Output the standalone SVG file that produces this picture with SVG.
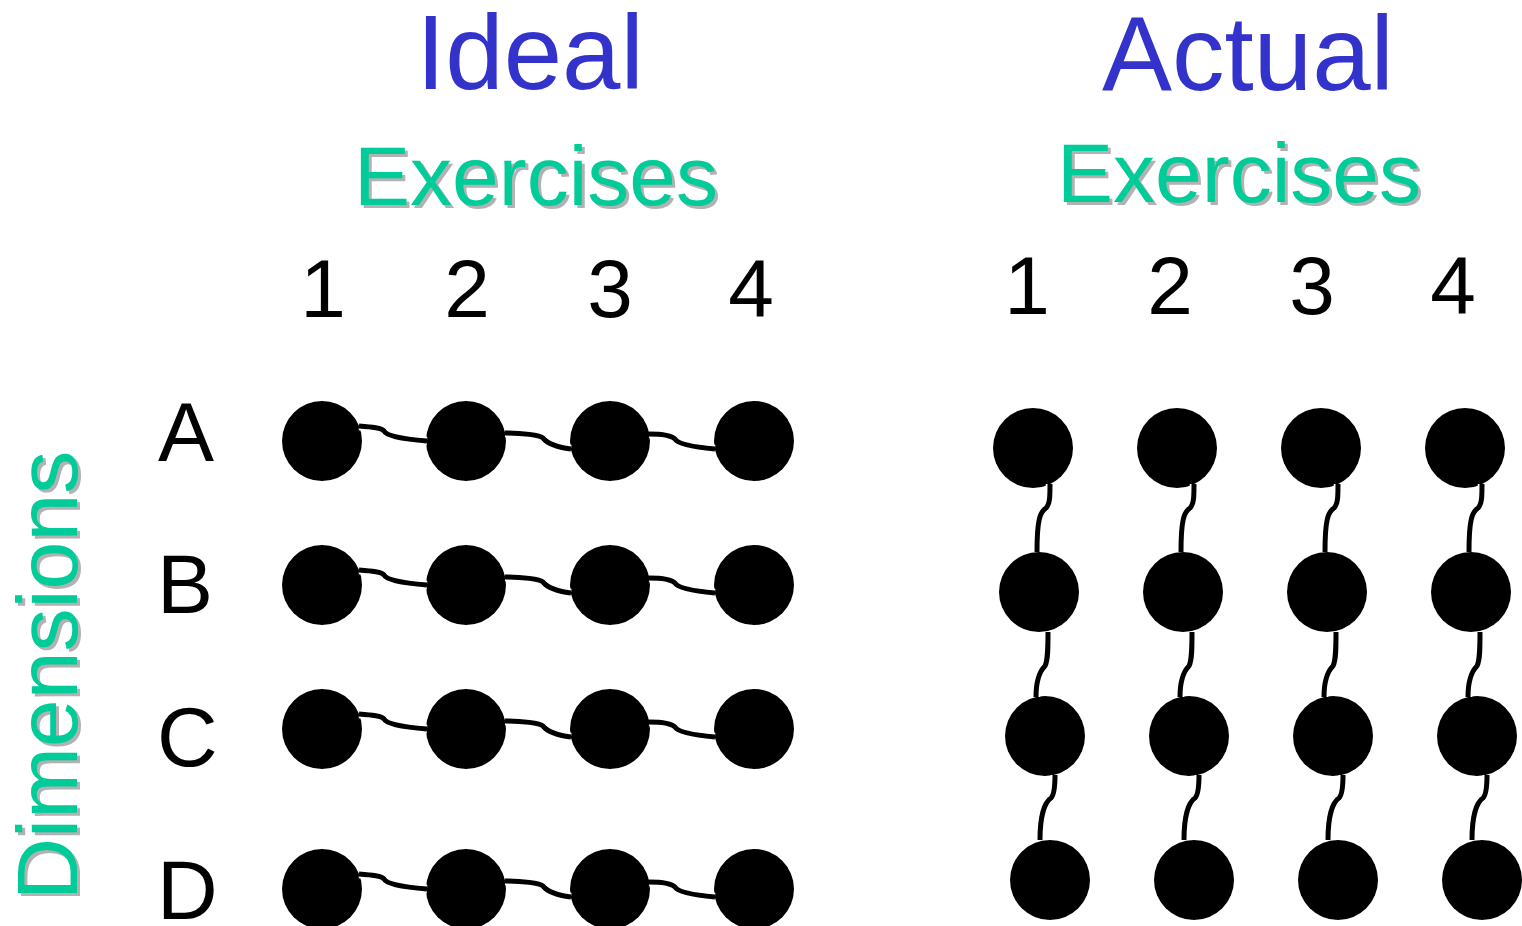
<svg xmlns="http://www.w3.org/2000/svg" xmlns:xlink="http://www.w3.org/1999/xlink" width="1522" height="926" viewBox="0 0 1522 926">
<style>
.title{font-family:"Liberation Sans",Arial,sans-serif;font-size:105px;fill:#3333CC;text-anchor:middle}
.sub{font-family:"Liberation Sans",Arial,sans-serif;font-size:84px;fill:#00CC99;text-anchor:middle}
.subsh{font-family:"Liberation Sans",Arial,sans-serif;font-size:84px;fill:#B2B2B2;text-anchor:middle}
.num{font-family:"Liberation Sans",Arial,sans-serif;font-size:82px;fill:#000;text-anchor:middle}
.row{font-family:"Liberation Sans",Arial,sans-serif;font-size:84px;fill:#000}
.dim{font-family:"Liberation Sans",Arial,sans-serif;font-size:86px;fill:#00CC99}
.dimsh{font-family:"Liberation Sans",Arial,sans-serif;font-size:86px;fill:#B2B2B2}
.node{fill:#000}
.case{fill:none;stroke:#fff;stroke-width:8.5;stroke-linecap:butt}
.wire{fill:none;stroke:#000;stroke-width:5;stroke-linecap:butt}
</style>
<defs>
<path id="h1" d="M359,-15 C372,-14 382,-13 384,-10 C386,-6 398,-2 427,0"/>
<path id="h2" d="M505,-8 C522,-8 540,-6 543,-3 C546,1 555,6 571,8"/>
<path id="h3" d="M649,-7 C662,-7 672,-5 675,-2 C678,3 692,6 715,8"/>
<path id="v1" d="M1050,484 C1050,496 1050,504 1046,508 C1040,512 1037,520 1037,552"/>
<path id="v2" d="M1048,632 C1048,648 1048,660 1045,666 C1040,671 1036,680 1036,697"/>
<path id="v3" d="M1055,775 C1055,788 1054,795 1051,798 C1045,802 1040,815 1040,840"/>
</defs>
<g id="titles">
<text class="title" x="530" y="89">Ideal</text>
<text class="title" x="1248" y="90">Actual</text>
<text class="subsh" x="539" y="208">Exercises</text>
<text class="sub" x="536" y="205">Exercises</text>
<text class="subsh" x="1242" y="205">Exercises</text>
<text class="sub" x="1239" y="202">Exercises</text>
<text class="dimsh" transform="translate(80,903) rotate(-90)">Dimensions</text>
<text class="dim" transform="translate(77,900) rotate(-90)">Dimensions</text>
</g>
<g id="col-labels">
<text class="num" x="323" y="317">1</text>
<text class="num" x="467" y="317">2</text>
<text class="num" x="610" y="317">3</text>
<text class="num" x="751" y="317">4</text>
<text class="num" x="1027" y="314">1</text>
<text class="num" x="1170" y="314">2</text>
<text class="num" x="1312" y="314">3</text>
<text class="num" x="1453" y="314">4</text>
</g>
<g id="row-labels">
<text class="row" x="158" y="461">A</text>
<text class="row" x="157" y="613">B</text>
<text class="row" x="157" y="766">C</text>
<text class="row" x="157" y="919">D</text>
</g>
<g id="ideal-nodes">
<g id="ideal-A1"><circle class="node" cx="322" cy="441" r="40"/></g>
<g id="ideal-A2"><circle class="node" cx="466" cy="441" r="40"/></g>
<g id="ideal-A3"><circle class="node" cx="610" cy="441" r="40"/></g>
<g id="ideal-A4"><circle class="node" cx="754" cy="441" r="40"/></g>
<g id="ideal-B1"><circle class="node" cx="322" cy="585" r="40"/></g>
<g id="ideal-B2"><circle class="node" cx="466" cy="585" r="40"/></g>
<g id="ideal-B3"><circle class="node" cx="610" cy="585" r="40"/></g>
<g id="ideal-B4"><circle class="node" cx="754" cy="585" r="40"/></g>
<g id="ideal-C1"><circle class="node" cx="322" cy="729" r="40"/></g>
<g id="ideal-C2"><circle class="node" cx="466" cy="729" r="40"/></g>
<g id="ideal-C3"><circle class="node" cx="610" cy="729" r="40"/></g>
<g id="ideal-C4"><circle class="node" cx="754" cy="729" r="40"/></g>
<g id="ideal-D1"><circle class="node" cx="322" cy="889" r="40"/></g>
<g id="ideal-D2"><circle class="node" cx="466" cy="889" r="40"/></g>
<g id="ideal-D3"><circle class="node" cx="610" cy="889" r="40"/></g>
<g id="ideal-D4"><circle class="node" cx="754" cy="889" r="40"/></g>
</g>
<g id="actual-nodes">
<g id="actual-A1"><circle class="node" cx="1033" cy="448" r="40"/></g>
<g id="actual-B1"><circle class="node" cx="1039" cy="592" r="40"/></g>
<g id="actual-C1"><circle class="node" cx="1045" cy="736" r="40"/></g>
<g id="actual-D1"><circle class="node" cx="1050" cy="880" r="40"/></g>
<g id="actual-A2"><circle class="node" cx="1177" cy="448" r="40"/></g>
<g id="actual-B2"><circle class="node" cx="1183" cy="592" r="40"/></g>
<g id="actual-C2"><circle class="node" cx="1189" cy="736" r="40"/></g>
<g id="actual-D2"><circle class="node" cx="1194" cy="880" r="40"/></g>
<g id="actual-A3"><circle class="node" cx="1321" cy="448" r="40"/></g>
<g id="actual-B3"><circle class="node" cx="1327" cy="592" r="40"/></g>
<g id="actual-C3"><circle class="node" cx="1333" cy="736" r="40"/></g>
<g id="actual-D3"><circle class="node" cx="1338" cy="880" r="40"/></g>
<g id="actual-A4"><circle class="node" cx="1465" cy="448" r="40"/></g>
<g id="actual-B4"><circle class="node" cx="1471" cy="592" r="40"/></g>
<g id="actual-C4"><circle class="node" cx="1477" cy="736" r="40"/></g>
<g id="actual-D4"><circle class="node" cx="1482" cy="880" r="40"/></g>
</g>
<g id="connectors">
<g transform="translate(0,441)"><use xlink:href="#h1" class="case"/><use xlink:href="#h1" class="wire"/><use xlink:href="#h2" class="case"/><use xlink:href="#h2" class="wire"/><use xlink:href="#h3" class="case"/><use xlink:href="#h3" class="wire"/></g>
<g transform="translate(0,585)"><use xlink:href="#h1" class="case"/><use xlink:href="#h1" class="wire"/><use xlink:href="#h2" class="case"/><use xlink:href="#h2" class="wire"/><use xlink:href="#h3" class="case"/><use xlink:href="#h3" class="wire"/></g>
<g transform="translate(0,729)"><use xlink:href="#h1" class="case"/><use xlink:href="#h1" class="wire"/><use xlink:href="#h2" class="case"/><use xlink:href="#h2" class="wire"/><use xlink:href="#h3" class="case"/><use xlink:href="#h3" class="wire"/></g>
<g transform="translate(0,889)"><use xlink:href="#h1" class="case"/><use xlink:href="#h1" class="wire"/><use xlink:href="#h2" class="case"/><use xlink:href="#h2" class="wire"/><use xlink:href="#h3" class="case"/><use xlink:href="#h3" class="wire"/></g>
<g transform="translate(0,0)"><use xlink:href="#v1" class="case"/><use xlink:href="#v1" class="wire"/><use xlink:href="#v2" class="case"/><use xlink:href="#v2" class="wire"/><use xlink:href="#v3" class="case"/><use xlink:href="#v3" class="wire"/></g>
<g transform="translate(144,0)"><use xlink:href="#v1" class="case"/><use xlink:href="#v1" class="wire"/><use xlink:href="#v2" class="case"/><use xlink:href="#v2" class="wire"/><use xlink:href="#v3" class="case"/><use xlink:href="#v3" class="wire"/></g>
<g transform="translate(288,0)"><use xlink:href="#v1" class="case"/><use xlink:href="#v1" class="wire"/><use xlink:href="#v2" class="case"/><use xlink:href="#v2" class="wire"/><use xlink:href="#v3" class="case"/><use xlink:href="#v3" class="wire"/></g>
<g transform="translate(432,0)"><use xlink:href="#v1" class="case"/><use xlink:href="#v1" class="wire"/><use xlink:href="#v2" class="case"/><use xlink:href="#v2" class="wire"/><use xlink:href="#v3" class="case"/><use xlink:href="#v3" class="wire"/></g>
</g>
</svg>
